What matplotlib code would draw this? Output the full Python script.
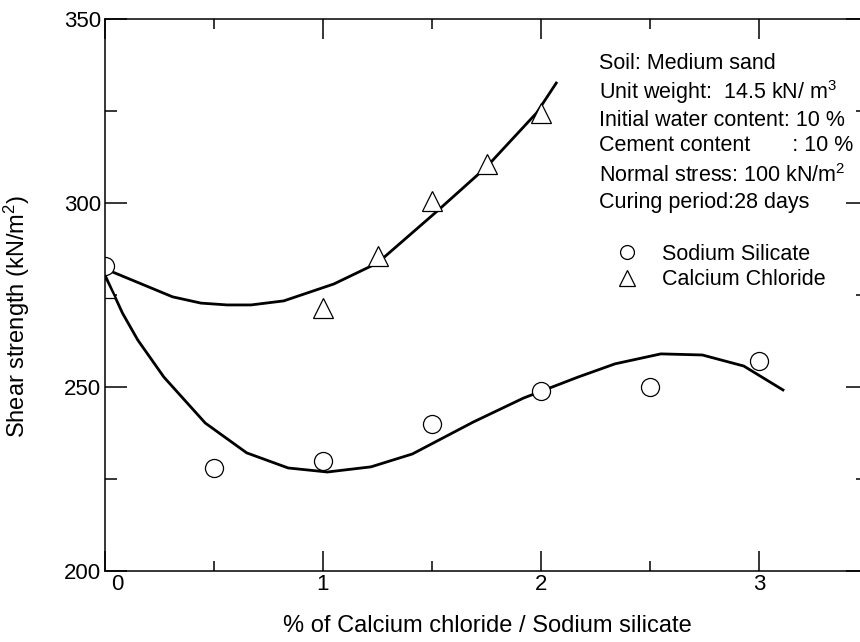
import numpy as np
import matplotlib.pyplot as plt
import matplotlib.transforms as mtransforms
from matplotlib.lines import Line2D

plt.rcParams['font.family'] = ['Liberation Sans', 'DejaVu Sans']
plt.rcParams['mathtext.fontset'] = 'custom'
plt.rcParams['mathtext.rm'] = 'Liberation Sans'
plt.rcParams['mathtext.it'] = 'Liberation Sans:italic'

# measured points
x_ss = [0.0, 0.5, 1.0, 1.5, 2.0, 2.5, 3.0]
y_ss = [283, 228, 230, 240, 249, 250, 257]
x_cc = [0.0, 1.0, 1.25, 1.5, 1.75, 2.0]
y_cc = [277, 271.5, 285.5, 300.5, 310.5, 324.5]

# fitted trend lines
fit_ss_x = [0.0, 0.08, 0.15, 0.27, 0.46, 0.65, 0.84, 1.02, 1.22, 1.41, 1.69,
            1.92, 2.17, 2.34, 2.55, 2.74, 2.93, 3.11]
fit_ss_y = [280.4, 270.1, 262.8, 252.7, 240.2, 232.1, 228.0, 226.9, 228.3,
            231.8, 240.5, 247.0, 252.7, 256.3, 259.0, 258.7, 255.7, 249.2]
fit_cc_x = [0.0, 0.31, 0.44, 0.56, 0.67, 0.82, 1.05, 1.25, 1.52, 1.75, 1.98,
            2.07]
fit_cc_y = [282.1, 274.5, 272.8, 272.3, 272.3, 273.4, 278.0, 283.7, 297.6,
            309.8, 324.5, 332.6]

info = ['Soil: Medium sand',
        r'Unit weight:  14.5 kN/ m$^{3}$',
        'Initial water content: 10 %',
        'Cement content       : 10 %',
        r'Normal stress: 100 kN/m$^{2}$',
        'Curing period:28 days']
info_base = [69, 99, 126, 151, 182, 208]

W, H = 860, 642
fig = plt.figure(figsize=(W / 100, H / 100), dpi=100)
ax = fig.add_axes([105 / W, 1 - 571 / H, (868 - 105) / W, (571 - 19) / H])

ax.plot(fit_ss_x, fit_ss_y, color='black', lw=2.0)
ax.plot(fit_cc_x, fit_cc_y, color='black', lw=2.0)
ax.plot(x_ss, y_ss, 'o', ms=13, mfc='white', mec='black', mew=0.9)
ax.plot(x_cc, y_cc, '^', ms=14, mfc='white', mec='black', mew=0.9)

ax.set_xlim(0, 3.5)
ax.set_ylim(200, 350)
ax.set_xticks([0, 1, 2, 3])
ax.set_xticks([0.5, 1.5, 2.5, 3.5], minor=True)
ax.set_yticks([200, 250, 300, 350])
ax.set_yticks([225, 275, 325], minor=True)
ax.tick_params(which='both', direction='in', top=True, right=True,
               width=1.1, labelsize=16)
ax.tick_params(axis='x', which='major', length=14.5, pad=2)
ax.tick_params(axis='x', which='minor', length=7.5)
ax.tick_params(axis='y', which='major', length=16, pad=3)
ax.tick_params(axis='y', which='minor', length=8.5)
for s in ax.spines.values():
    s.set_linewidth(1.1)

# push the "0" label off the corner
off = mtransforms.ScaledTranslation(12 / 100, 0, fig.dpi_scale_trans)
lbl0 = ax.get_xticklabels()[0]
lbl0.set_transform(lbl0.get_transform() + off)

fig.text(487 / W, 1 - 626 / H, '% of Calcium chloride / Sodium silicate',
         ha='center', va='center', fontsize=17)
fig.text(17 / W, 1 - 316 / H, r'Shear strength (kN/m$^{2}$)',
         ha='center', va='center', rotation=90, fontsize=17)

for t, yb in zip(info, info_base):
    fig.text(599 / W, 1 - yb / H, t, ha='left', va='baseline', fontsize=15.5)

handles = [Line2D([], [], ls='none', marker='o', ms=10, mfc='white',
                  mec='black', mew=0.9),
           Line2D([], [], ls='none', marker='^', ms=11, mfc='white',
                  mec='black', mew=0.9)]
ax.legend(handles, ['Sodium Silicate', 'Calcium Chloride'],
          loc='upper left', bbox_to_anchor=(616 / W, 1 - 244 / H),
          bbox_transform=fig.transFigure, frameon=False, fontsize=15.5,
          handlelength=1.0, handletextpad=1.14, borderpad=0, borderaxespad=0,
          labelspacing=0.2)

fig.savefig('out.png', dpi=100)
